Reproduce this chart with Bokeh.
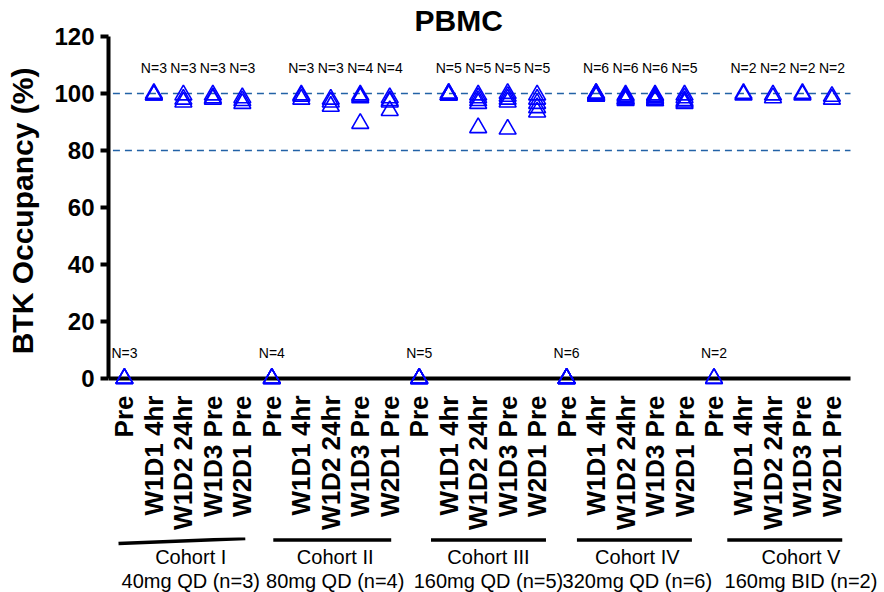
import math
from bokeh.plotting import figure
from bokeh.models import Range1d, FixedTicker
from bokeh.layouts import column
from bokeh.embed import file_html
from bokeh.resources import INLINE
from bokeh.core.properties import value

# ---------------- data ----------------
timepoints = ["Pre", "W1D1 4hr", "W1D2 24hr", "W1D3 Pre", "W2D1 Pre"]
cohort_names = ["Cohort I", "Cohort II", "Cohort III", "Cohort IV", "Cohort V"]
cohort_doses = ["40mg QD (n=3)", "80mg QD (n=4)", "160mg QD (n=5)",
                "320mg QD (n=6)", "160mg BID (n=2)"]

# BTK occupancy (%) per timepoint, one list per cohort
cohort1 = [[0, 0, 0],
           [100, 99.5, 99.5],
           [99.5, 98, 97],
           [99.5, 98.5, 98],
           [98.5, 97.5, 96.5]]
cohort2 = [[0, 0, 0, 0],
           [99.5, 99, 98],
           [98, 97, 95.5],
           [99.5, 99, 98.5, 89.5],
           [98.5, 97.5, 97, 94]]
cohort3 = [[0, 0, 0, 0, 0],
           [100, 100, 99.5, 99.5, 99.5],
           [99.5, 98.5, 97.5, 96.5, 88],
           [100, 99, 98, 97, 87.5],
           [99.5, 98, 96.5, 95, 93.5]]
cohort4 = [[0, 0, 0, 0, 0, 0],
           [100, 100, 99.5, 99.5, 99, 99],
           [99.5, 99, 98.5, 98, 98, 97.5],
           [99.5, 99, 98.5, 98, 97.5, 97.5],
           [99.5, 98.5, 97.5, 97, 96.5]]
cohort5 = [[0, 0],
           [100, 99.5],
           [99.5, 98.5],
           [100, 99.5],
           [99, 98]]
cohorts = [cohort1, cohort2, cohort3, cohort4, cohort5]

y_ticks = [0, 20, 40, 60, 80, 100, 120]
ref_levels = [100, 80]

# ---------------- layout constants ----------------
FONT = "Liberation Sans"
BLUE = "#0000FF"
n_top_y = 109
n_pre_y = 9
TOP = 36
FRAME_H = 349
AXIS_W = 742          # length of the drawn x axis in pixels
LEFT = 108
RIGHT = 34
BOTTOM = 152
H2 = 592 - TOP - FRAME_H - BOTTOM

xs, ys = [], []
n_x, n_y, n_text = [], [], []
tick_labels = {}
idx = 0
for c, coh in enumerate(cohorts):
    for t, vals in enumerate(coh):
        tick_labels[idx] = timepoints[t]
        for v in vals:
            xs.append(idx)
            ys.append(v)
        n_x.append(idx)
        n_y.append(n_pre_y if t == 0 else n_top_y)
        n_text.append("N=%d" % len(vals))
        idx += 1
n_cat = idx

x_start, x_axis_end = -0.54, n_cat - 0.37
px_per_unit = AXIS_W / (x_axis_end - x_start)
x_end = x_axis_end + RIGHT / px_per_unit
FRAME_W = AXIS_W + RIGHT
xr = Range1d(x_start, x_end)

p = figure(frame_width=FRAME_W, frame_height=FRAME_H,
           x_range=xr, y_range=Range1d(-2.45, 120),
           min_border_left=LEFT, min_border_right=0, min_border_top=TOP,
           min_border_bottom=BOTTOM,
           output_backend="svg", toolbar_location=None)
p.outline_line_color = None
p.grid.visible = False
p.background_fill_color = "white"
p.border_fill_color = "white"

p.title.text = "PBMC"
p.title.text_font = FONT
p.title.text_font_size = "30px"
p.title.text_font_style = "bold"
p.title.text_color = "black"
p.title.align = "left"
p.title.offset = 306
p.title.standoff = 0

yax = p.yaxis[0]
yax.ticker = FixedTicker(ticks=y_ticks)
yax.bounds = (0, 120)
yax.axis_line_width = 4
yax.axis_line_color = "black"
yax.major_tick_line_width = 4
yax.major_tick_line_color = "black"
yax.major_tick_out = 8
yax.major_tick_in = 0
yax.minor_tick_line_color = None
yax.major_label_text_font = FONT
yax.major_label_text_font_style = "bold"
yax.major_label_text_font_size = "24px"
yax.major_label_text_color = "black"
yax.major_label_standoff = 6
yax.axis_label = "BTK Occupancy (%)"
yax.axis_label_text_font = FONT
yax.axis_label_text_font_style = "bold"
yax.axis_label_text_font_size = "30px"
yax.axis_label_text_color = "black"
yax.axis_label_standoff = 12

xax = p.xaxis[0]
xax.ticker = FixedTicker(ticks=list(range(n_cat)))
xax.major_label_overrides = tick_labels
xax.major_label_orientation = math.pi / 2
xax.axis_line_color = None
xax.major_tick_line_color = None
xax.minor_tick_line_color = None
xax.major_label_text_font = FONT
xax.major_label_text_font_style = "bold"
xax.major_label_text_font_size = "26px"
xax.major_label_text_color = "black"
xax.major_label_standoff = 4

# reference lines and the x axis line at 0 (stop where the axis ends)
p.segment([x_start + 0.15] * len(ref_levels), ref_levels,
          [x_axis_end] * len(ref_levels), ref_levels,
          line_color="#2262a6", line_width=1.5, line_dash="7 5")
p.segment([x_start], [0], [x_axis_end], [0], line_color="black", line_width=4)

p.scatter(xs, ys, marker="triangle", size=17, fill_color=None,
          line_color=BLUE, line_width=1.6)
p.text(n_x, n_y, text=n_text, text_font=value(FONT), text_font_size="14px",
       text_align="center", text_baseline="middle", text_color="black")

# ---------------- cohort annotation strip (same x scale) ----------------
p2 = figure(frame_width=FRAME_W, frame_height=H2, x_range=xr,
            y_range=Range1d(H2, 0), min_border_left=LEFT, min_border_right=0,
            min_border_top=0, min_border_bottom=0,
            x_axis_location=None, y_axis_location=None,
            output_backend="svg", toolbar_location=None)
p2.outline_line_color = None
p2.grid.visible = False

bar_dx0 = [-0.2, 0.05, 0.4, 0.35, 0.45]
bar_dx1 = [0.1, 0.05, 0.3, 0.25, 0.35]
bar_y0 = [6, 2.5, 2.5, 2.5, 2.5]
bar_y1 = [1, 2.5, 2.5, 2.5, 2.5]
label_dx = [0.25, 0.15, 0.35, 0.4, 0.95]
x0 = [c * 5 + bar_dx0[c] for c in range(5)]
x1 = [c * 5 + 4 + bar_dx1[c] for c in range(5)]
p2.segment(x0, bar_y0, x1, bar_y1, line_color="black", line_width=3.5)
cx = [c * 5 + 2 + label_dx[c] for c in range(5)]
p2.text(cx, [H2 - 36] * 5, text=cohort_names, text_font=value(FONT),
        text_font_size="20px", text_align="center", text_baseline="middle",
        text_color="black")
p2.text(cx, [H2 - 12] * 5, text=cohort_doses, text_font=value(FONT),
        text_font_size="20px", text_align="center", text_baseline="middle",
        text_color="black")

layout = column(p, p2, spacing=0)
open("out.html", "w").write(file_html(layout, INLINE))
